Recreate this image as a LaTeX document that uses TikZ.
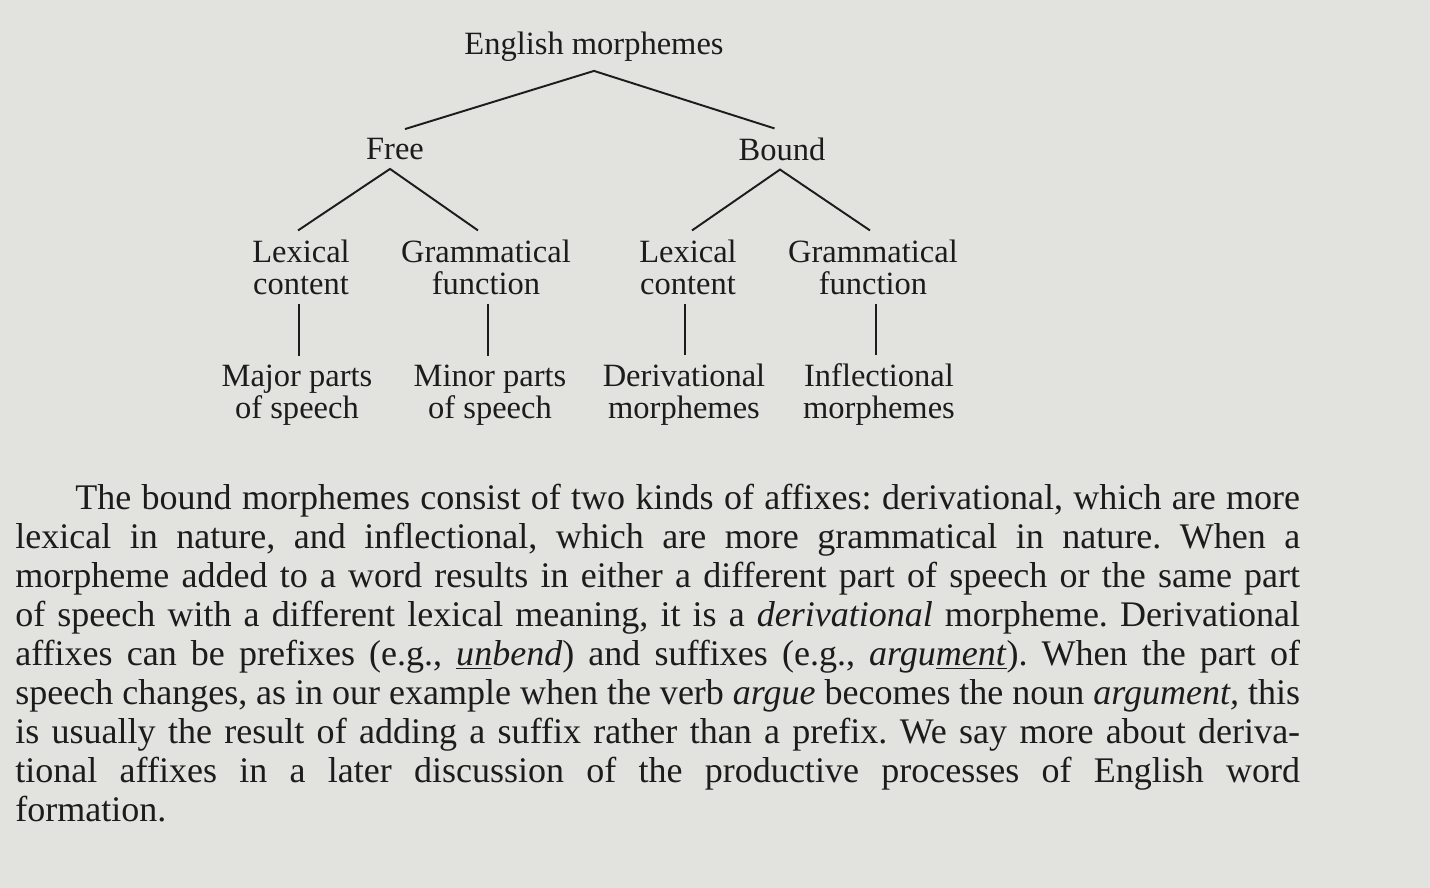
\documentclass[tikz,border=0pt]{standalone}
\usepackage{fontspec}
\setmainfont{Liberation Serif}
\usetikzlibrary{positioning}
\definecolor{pageGray}{RGB}{226,226,222}
\definecolor{inkText}{RGB}{28,28,28}
\tikzset{
    morph/.style={
        align=center,
        inner sep=5pt,
        text=inkText,
        font=\fontsize{18.5}{18.2}\selectfont
    },
    branch/.style={draw=inkText, line width=1.1pt},
    bodytext/.style={
        anchor=north west,
        inner sep=0pt,
        text width=25.7cm,
        align=justify,
        text=inkText,
        font=\fontsize{20.5}{22.2}\selectfont\frenchspacing
    }
}
\begin{document}
\begin{tikzpicture}[x=0.02cm, y=-0.02cm]
    \fill[pageGray] (0,0) rectangle (1430,888);
    % tree
    \node[morph] (root) at (594,47) {English morphemes};
    \node[morph] (free) at (395,149) {Free};
    \node[morph] (bound) at (782,149) {Bound};
    \node[morph] (lexfree) at (301,267) {Lexical\\content};
    \node[morph] (gramfree) at (486,267) {Grammatical\\function};
    \node[morph] (lexbound) at (688,267) {Lexical\\content};
    \node[morph] (grambound) at (873,267) {Grammatical\\function};
    \node[morph] (major) at (297,395) {Major parts\\of speech};
    \node[morph] (minor) at (490,395) {Minor parts\\of speech};
    \node[morph] (deriv) at (684,395) {Derivational\\morphemes};
    \node[morph] (infl) at (879,395) {Inflectional\\morphemes};
    \draw[branch] ([xshift=0.2cm]free.north) -- (root.south) -- ([xshift=-0.15cm]bound.north);
    \draw[branch] ([xshift=-0.06cm]lexfree.north) -- ([xshift=-0.1cm]free.south) -- ([xshift=-0.16cm]gramfree.north);
    \draw[branch] ([xshift=0.08cm]lexbound.north) -- ([xshift=-0.04cm]bound.south) -- ([xshift=-0.06cm]grambound.north);
    \draw[branch] ([xshift=-0.04cm]lexfree.south) -- ([xshift=-0.04cm]lexfree.south |- major.north);
    \draw[branch] ([xshift=0.04cm]gramfree.south) -- ([xshift=0.04cm]gramfree.south |- minor.north);
    \draw[branch] ([xshift=-0.06cm]lexbound.south) -- ([xshift=-0.06cm]lexbound.south |- deriv.north);
    \draw[branch] ([xshift=0.06cm]grambound.south) -- ([xshift=0.06cm]grambound.south |- infl.north);
    % paragraph
    \node[bodytext] (para) at (15,484) {\hspace*{1.2cm}The bound morphemes consist of two kinds of affixes: derivational, which are more\linebreak
    lexical in nature, and inflectional, which are more grammatical in nature. When a\linebreak
    morpheme added to a word results in either a different part of speech or the same part\linebreak
    of speech with a different lexical meaning, it is a \textit{derivational} morpheme. Derivational\linebreak
    affixes can be prefixes (e.g., \underline{\textit{un}}\textit{bend}) and suffixes (e.g., \textit{argu}\underline{\textit{ment}}). When the part of\linebreak
    speech changes, as in our example when the verb \textit{argue} becomes the noun \textit{argument,} this\linebreak
    is usually the result of adding a suffix rather than a prefix. We say more about deriva-\linebreak
    tional affixes in a later discussion of the productive processes of English word\linebreak
    formation.};
\end{tikzpicture}
\end{document}
